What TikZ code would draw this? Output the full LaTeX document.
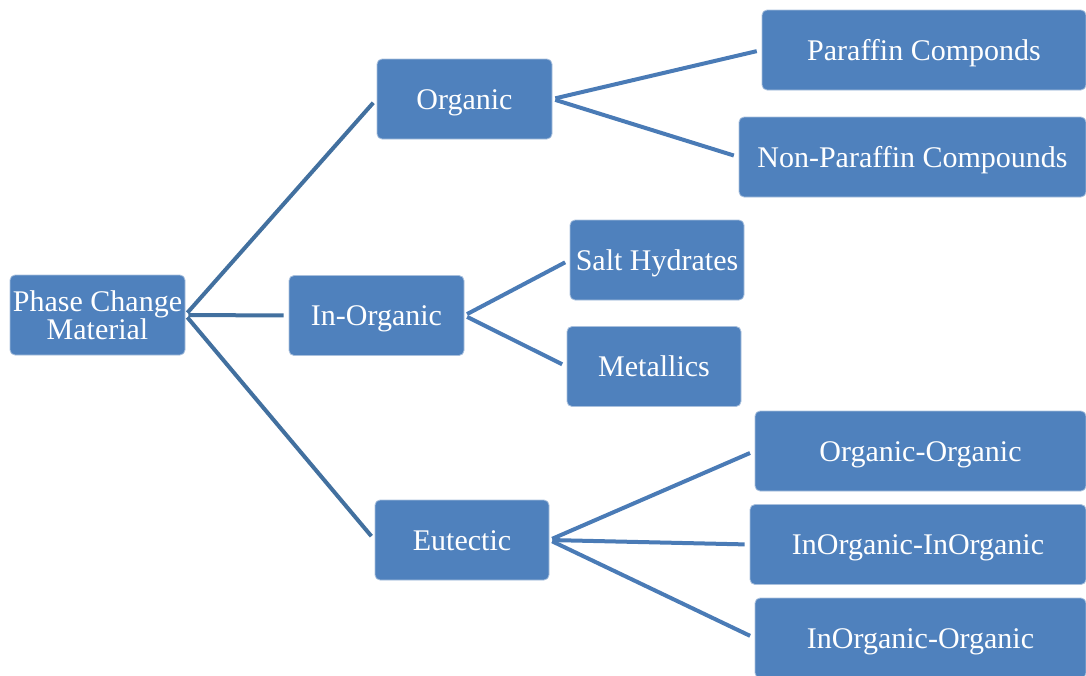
\documentclass[tikz,border=0pt]{standalone}
\usepackage{fontspec}
\setmainfont{Liberation Serif}
\usepackage{xcolor}
\usetikzlibrary{positioning}

\definecolor{boxblue}{HTML}{4F81BD}
\definecolor{boxedge}{HTML}{A9C0DD}
\definecolor{linkdark}{HTML}{42709F}
\definecolor{linkblue}{HTML}{4A7BB6}

\tikzset{
  boxbase/.style={rectangle, rounded corners=5pt, fill=boxblue, draw=boxedge, line width=0.8pt,
    text=white, align=center, inner sep=0pt, minimum height=80pt,
    font=\fontsize{30}{28}\selectfont},
  box/.style={boxbase, text height=24pt, text depth=4pt},
  link/.style={draw=linkblue, line width=4pt, shorten <=3pt, shorten >=5pt},
  rootlink/.style={link, draw=linkdark}
}

\begin{document}
\begin{tikzpicture}[x=1pt,y=-1pt]
            \useasboundingbox (0,0) rectangle (1086,675);

            \node[boxbase, minimum width=175pt] (pcm) at (97.5,315) {Phase Change\\Material};
            \node[box, minimum width=175pt] (org) at (464.5,99) {Organic};
            \node[box, minimum width=175pt] (inorg) at (376.5,315.5) {In-Organic};
            \node[box, minimum width=174pt] (eut) at (462,540) {Eutectic};

            \node[box, minimum width=324pt] (par) at (924,50) {Paraffin Componds};
            \node[box, minimum width=347pt] (npar) at (912.5,157) {Non-Paraffin Compounds};
            \node[box, minimum width=174pt] (salt) at (657,260) {Salt Hydrates};
            \node[box, minimum width=174pt] (met) at (654,366.5) {Metallics};
            \node[box, minimum width=331pt] (oo) at (920.5,451) {Organic-Organic};
            \node[box, minimum width=336pt] (ii) at (918,544.5) {InOrganic-InOrganic};
            \node[box, minimum width=331pt] (io) at (920.5,638) {InOrganic-Organic};

            \draw[rootlink] (pcm.east) -- (org.west);
            \draw[rootlink] (pcm.east) -- (inorg.west);
            \draw[rootlink] (pcm.east) -- (eut.west);

            \draw[link] (org.east) -- (par.west);
            \draw[link] (org.east) -- (npar.west);
            \draw[link] (inorg.east) -- (salt.west);
            \draw[link] (inorg.east) -- (met.west);
            \draw[link] (eut.east) -- (oo.west);
            \draw[link] (eut.east) -- (ii.west);
            \draw[link] (eut.east) -- (io.west);
\end{tikzpicture}
\end{document}
